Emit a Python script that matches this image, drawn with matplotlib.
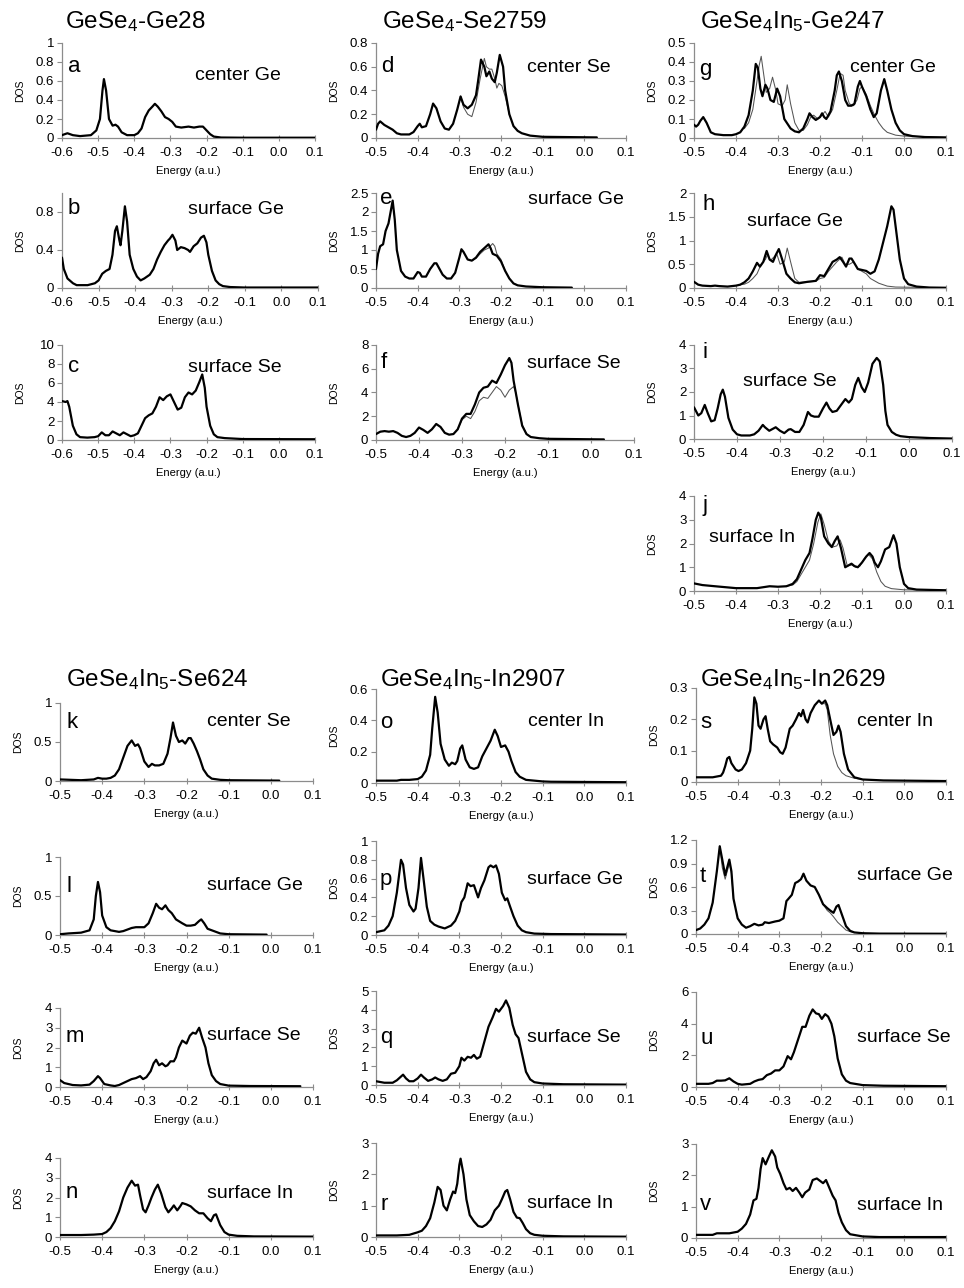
import matplotlib
matplotlib.use("Agg")
import matplotlib.pyplot as plt
import numpy as np

plt.rcParams['font.family'] = ['Liberation Sans', 'DejaVu Sans']
plt.rcParams['mathtext.fontset'] = 'custom'
plt.rcParams['mathtext.rm'] = 'Liberation Sans'
plt.rcParams['mathtext.it'] = 'Liberation Sans'

# ---------------- data (energy, DOS) ----------------
a_pts = [(-0.6,0.03),(-0.585,0.05),(-0.57,0.03),(-0.55,0.02),(-0.52,0.03),(-0.505,0.08),(-0.495,0.2),
         (-0.488,0.5),(-0.484,0.62),(-0.478,0.5),(-0.47,0.2),(-0.46,0.13),(-0.452,0.14),(-0.445,0.12),
         (-0.435,0.06),(-0.42,0.03),(-0.40,0.03),(-0.39,0.05),(-0.38,0.1),(-0.37,0.22),(-0.36,0.29),
         (-0.35,0.33),(-0.343,0.36),(-0.335,0.33),(-0.325,0.28),(-0.315,0.22),(-0.305,0.2),(-0.295,0.17),
         (-0.285,0.12),(-0.27,0.11),(-0.25,0.12),(-0.235,0.11),(-0.22,0.12),(-0.21,0.12),(-0.2,0.08),
         (-0.19,0.04),(-0.18,0.015),(-0.16,0.005),(-0.1,0.003),(0.1,0.003)]
b_pts = [(-0.6,0.32),(-0.595,0.2),(-0.585,0.1),(-0.57,0.05),(-0.56,0.03),(-0.53,0.03),(-0.51,0.05),
         (-0.5,0.08),(-0.49,0.15),(-0.48,0.18),(-0.47,0.2),(-0.462,0.35),(-0.455,0.6),(-0.45,0.65),
         (-0.443,0.5),(-0.44,0.45),(-0.435,0.6),(-0.428,0.86),(-0.422,0.7),(-0.415,0.35),(-0.405,0.2),
         (-0.395,0.12),(-0.385,0.08),(-0.375,0.1),(-0.36,0.14),(-0.35,0.2),(-0.34,0.3),(-0.33,0.38),
         (-0.32,0.45),(-0.31,0.5),(-0.305,0.52),(-0.298,0.56),(-0.29,0.5),(-0.285,0.4),(-0.275,0.43),
         (-0.265,0.42),(-0.255,0.4),(-0.25,0.38),(-0.24,0.44),(-0.23,0.47),(-0.22,0.53),(-0.212,0.55),
         (-0.205,0.48),(-0.2,0.35),(-0.19,0.18),(-0.18,0.08),(-0.17,0.04),(-0.16,0.02),(-0.14,0.01),
         (-0.1,0.005),(0.1,0.005)]
c_pts = [(-0.6,4.1),(-0.59,4.0),(-0.585,4.1),(-0.58,3.5),(-0.575,2.5),(-0.57,1.5),(-0.56,0.6),(-0.55,0.3),
         (-0.53,0.25),(-0.51,0.3),(-0.5,0.4),(-0.49,0.8),(-0.48,0.5),(-0.47,0.5),(-0.46,0.9),(-0.45,0.7),
         (-0.44,0.5),(-0.43,0.8),(-0.42,0.6),(-0.41,0.4),(-0.4,0.5),(-0.39,0.7),(-0.38,1.5),(-0.37,2.3),
         (-0.36,2.6),(-0.35,2.8),(-0.34,3.5),(-0.33,4.5),(-0.32,4.2),(-0.31,4.6),(-0.3,4.8),(-0.29,4.0),
         (-0.28,3.2),(-0.27,3.4),(-0.26,4.5),(-0.25,5.0),(-0.24,4.8),(-0.23,5.2),(-0.22,6.1),(-0.212,6.9),
         (-0.205,5.5),(-0.2,3.5),(-0.19,1.5),(-0.18,0.6),(-0.17,0.3),(-0.15,0.2),(-0.1,0.1),(0.1,0.08)]
d_pts = [(-0.5,0.07),(-0.495,0.12),(-0.49,0.14),(-0.48,0.11),(-0.47,0.09),(-0.46,0.07),(-0.45,0.04),
         (-0.44,0.03),(-0.42,0.03),(-0.41,0.05),(-0.4,0.1),(-0.395,0.12),(-0.39,0.09),(-0.38,0.1),
         (-0.37,0.2),(-0.363,0.29),(-0.355,0.25),(-0.345,0.14),(-0.335,0.08),(-0.325,0.07),(-0.315,0.12),
         (-0.305,0.24),(-0.297,0.35),(-0.29,0.28),(-0.28,0.25),(-0.27,0.28),(-0.26,0.36),(-0.255,0.48),
         (-0.248,0.66),(-0.24,0.6),(-0.235,0.52),(-0.228,0.56),(-0.222,0.5),(-0.215,0.47),(-0.21,0.55),
         (-0.203,0.7),(-0.195,0.6),(-0.19,0.4),(-0.18,0.2),(-0.17,0.1),(-0.16,0.06),(-0.15,0.04),
         (-0.13,0.02),(-0.1,0.01),(0.03,0.005)]
d_thin = [(-0.297,0.35),(-0.29,0.26),(-0.28,0.2),(-0.27,0.18),(-0.26,0.3),(-0.25,0.5),(-0.24,0.67),
          (-0.235,0.6),(-0.228,0.58),(-0.222,0.58),(-0.215,0.5),(-0.21,0.42),(-0.205,0.46),(-0.198,0.44),
          (-0.19,0.35),(-0.18,0.2)]
e_pts = [(-0.5,0.5),(-0.495,0.9),(-0.49,1.1),(-0.483,1.15),(-0.477,1.5),(-0.47,1.7),(-0.465,2.0),
         (-0.46,2.3),(-0.455,1.8),(-0.45,1.0),(-0.44,0.45),(-0.43,0.3),(-0.42,0.25),(-0.41,0.25),
         (-0.4,0.42),(-0.395,0.4),(-0.39,0.3),(-0.38,0.3),(-0.37,0.5),(-0.36,0.65),(-0.355,0.65),
         (-0.35,0.55),(-0.34,0.35),(-0.33,0.25),(-0.32,0.25),(-0.31,0.4),(-0.3,0.8),(-0.295,1.02),
         (-0.29,0.95),(-0.28,0.75),(-0.27,0.72),(-0.26,0.8),(-0.25,0.95),(-0.24,1.05),(-0.23,1.15),
         (-0.225,1.05),(-0.22,0.9),(-0.21,0.85),(-0.2,0.7),(-0.19,0.45),(-0.18,0.25),(-0.17,0.12),
         (-0.16,0.07),(-0.14,0.04),(-0.1,0.02),(-0.03,0.01)]
e_thin = [(-0.27,0.72),(-0.26,0.78),(-0.25,0.9),(-0.24,1.0),(-0.23,1.05),(-0.22,1.17),(-0.215,1.1),
          (-0.21,0.9),(-0.2,0.75),(-0.19,0.45)]
f_pts = [(-0.5,0.5),(-0.49,0.7),(-0.48,0.75),(-0.47,0.7),(-0.46,0.75),(-0.45,0.6),(-0.44,0.35),
         (-0.43,0.25),(-0.42,0.35),(-0.41,0.6),(-0.4,1.05),(-0.39,0.85),(-0.38,0.6),(-0.37,0.9),
         (-0.36,1.35),(-0.35,1.1),(-0.34,0.6),(-0.33,0.45),(-0.32,0.5),(-0.31,0.9),(-0.3,1.8),(-0.29,2.2),
         (-0.28,2.2),(-0.27,3.0),(-0.26,4.0),(-0.25,4.4),(-0.24,4.5),(-0.23,5.0),(-0.22,4.8),(-0.21,5.5),
         (-0.2,6.3),(-0.19,6.9),(-0.185,6.5),(-0.18,5.0),(-0.17,3.0),(-0.16,1.2),(-0.15,0.5),(-0.14,0.25),
         (-0.12,0.15),(-0.1,0.1),(0.03,0.05)]
f_thin = [(-0.31,0.9),(-0.3,1.7),(-0.29,2.0),(-0.28,1.8),(-0.27,2.4),(-0.26,3.3),(-0.25,3.6),(-0.24,3.5),
          (-0.23,4.0),(-0.22,4.5),(-0.21,4.2),(-0.2,3.6),(-0.19,4.2),(-0.18,4.5),(-0.175,4.0),(-0.17,3.0),
          (-0.16,1.3),(-0.15,0.5)]
g_pts = [(-0.5,0.07),(-0.495,0.06),(-0.49,0.07),(-0.485,0.09),(-0.478,0.11),(-0.47,0.08),(-0.46,0.03),
         (-0.45,0.02),(-0.43,0.015),(-0.41,0.015),(-0.4,0.02),(-0.39,0.03),(-0.38,0.06),(-0.37,0.12),
         (-0.36,0.25),(-0.353,0.39),(-0.348,0.37),(-0.342,0.26),(-0.337,0.22),(-0.33,0.28),(-0.325,0.26),
         (-0.318,0.2),(-0.31,0.19),(-0.302,0.26),(-0.295,0.22),(-0.285,0.1),(-0.27,0.05),(-0.26,0.035),
         (-0.25,0.03),(-0.24,0.05),(-0.23,0.1),(-0.225,0.13),(-0.218,0.11),(-0.21,0.095),(-0.2,0.11),
         (-0.195,0.13),(-0.19,0.11),(-0.185,0.1),(-0.175,0.14),(-0.165,0.25),(-0.16,0.33),(-0.155,0.35),
         (-0.148,0.3),(-0.14,0.2),(-0.133,0.17),(-0.125,0.17),(-0.118,0.18),(-0.11,0.27),(-0.105,0.3),
         (-0.1,0.27),(-0.09,0.22),(-0.08,0.15),(-0.072,0.11),(-0.065,0.13),(-0.055,0.25),(-0.047,0.31),
         (-0.04,0.25),(-0.03,0.15),(-0.02,0.08),(-0.01,0.04),(0.0,0.02),(0.02,0.01),(0.05,0.005),(0.1,0.003)]
g_thin = [(-0.38,0.05),(-0.37,0.08),(-0.36,0.15),(-0.35,0.3),(-0.345,0.38),(-0.34,0.43),(-0.335,0.35),
          (-0.328,0.24),(-0.32,0.26),(-0.313,0.32),(-0.305,0.25),(-0.3,0.18),(-0.29,0.17),(-0.283,0.2),
          (-0.278,0.28),(-0.27,0.18),(-0.26,0.08),(-0.25,0.04),(-0.24,0.04),(-0.23,0.07),(-0.222,0.11),
          (-0.215,0.12),(-0.205,0.1),(-0.195,0.12),(-0.188,0.14),(-0.18,0.11),(-0.17,0.15),(-0.16,0.25),
          (-0.152,0.34),(-0.145,0.33),(-0.14,0.25),(-0.13,0.18),(-0.12,0.17),(-0.112,0.2),(-0.105,0.26),
          (-0.1,0.27),(-0.09,0.23),(-0.08,0.17),(-0.07,0.12),(-0.06,0.08),(-0.05,0.05),(-0.04,0.03),
          (-0.02,0.015),(0.0,0.01),(0.1,0.003)]
h_pts = [(-0.5,0.13),(-0.49,0.07),(-0.48,0.05),(-0.46,0.04),(-0.45,0.05),(-0.44,0.04),(-0.42,0.03),
         (-0.40,0.05),(-0.39,0.07),(-0.38,0.12),(-0.37,0.2),(-0.36,0.35),(-0.35,0.53),(-0.343,0.45),
         (-0.335,0.55),(-0.327,0.78),(-0.32,0.6),(-0.312,0.55),(-0.305,0.7),(-0.298,0.82),(-0.29,0.6),
         (-0.28,0.3),(-0.27,0.2),(-0.26,0.12),(-0.25,0.1),(-0.23,0.13),(-0.21,0.15),(-0.2,0.27),
         (-0.19,0.25),(-0.18,0.4),(-0.17,0.55),(-0.16,0.6),(-0.153,0.65),(-0.145,0.55),(-0.138,0.45),
         (-0.13,0.62),(-0.125,0.62),(-0.12,0.55),(-0.11,0.4),(-0.1,0.38),(-0.09,0.36),(-0.08,0.3),
         (-0.07,0.35),(-0.06,0.6),(-0.05,0.95),(-0.04,1.3),(-0.03,1.72),(-0.025,1.65),(-0.02,1.3),
         (-0.01,0.6),(0.0,0.2),(0.01,0.08),(0.03,0.03),(0.06,0.01),(0.1,0.005)]
h_thin = [(-0.39,0.07),(-0.38,0.08),(-0.37,0.12),(-0.36,0.2),(-0.35,0.3),(-0.34,0.5),(-0.33,0.6),
          (-0.325,0.7),(-0.318,0.58),(-0.31,0.65),(-0.303,0.72),(-0.295,0.5),(-0.285,0.55),(-0.278,0.84),
          (-0.27,0.55),(-0.26,0.2),(-0.25,0.12),(-0.23,0.13),(-0.21,0.14),(-0.2,0.2),(-0.19,0.22),
          (-0.18,0.35),(-0.17,0.45),(-0.16,0.55),(-0.148,0.65),(-0.14,0.5),(-0.13,0.5),(-0.12,0.55),
          (-0.11,0.4),(-0.1,0.35),(-0.09,0.3),(-0.08,0.2),(-0.06,0.1),(-0.04,0.04),(-0.02,0.02),(0.1,0.005)]
i_pts = [(-0.5,1.35),(-0.49,1.0),(-0.483,1.1),(-0.475,1.45),(-0.468,1.1),(-0.46,0.75),(-0.452,0.8),
         (-0.445,1.3),(-0.438,1.9),(-0.433,2.1),(-0.428,1.8),(-0.42,0.9),(-0.41,0.4),(-0.4,0.2),
         (-0.39,0.15),(-0.37,0.15),(-0.36,0.2),(-0.35,0.35),(-0.34,0.6),(-0.335,0.5),(-0.325,0.35),
         (-0.31,0.5),(-0.3,0.35),(-0.29,0.25),(-0.28,0.4),(-0.275,0.42),(-0.265,0.3),(-0.255,0.3),
         (-0.245,0.6),(-0.235,1.15),(-0.228,1.0),(-0.22,0.95),(-0.21,0.95),(-0.2,1.3),(-0.192,1.55),
         (-0.185,1.3),(-0.178,1.15),(-0.168,1.2),(-0.158,1.45),(-0.148,1.7),(-0.14,1.55),(-0.133,1.7),
         (-0.125,2.3),(-0.118,2.6),(-0.11,2.2),(-0.103,2.0),(-0.095,2.4),(-0.085,3.2),(-0.075,3.45),
         (-0.068,3.3),(-0.06,2.3),(-0.055,1.2),(-0.05,0.6),(-0.04,0.3),(-0.03,0.18),(-0.02,0.12),
         (0.0,0.08),(0.05,0.04),(0.1,0.02)]
j_pts = [(-0.5,0.32),(-0.48,0.25),(-0.45,0.2),(-0.4,0.12),(-0.35,0.12),(-0.32,0.2),(-0.3,0.18),
         (-0.28,0.2),(-0.265,0.3),(-0.255,0.5),(-0.245,0.9),(-0.235,1.3),(-0.225,1.6),(-0.218,2.2),
         (-0.21,3.0),(-0.204,3.3),(-0.198,3.1),(-0.19,2.3),(-0.18,2.0),(-0.172,1.85),(-0.165,2.1),
         (-0.158,2.3),(-0.15,1.8),(-0.14,1.0),(-0.13,1.1),(-0.125,1.15),(-0.118,1.05),(-0.11,1.0),
         (-0.1,1.2),(-0.09,1.45),(-0.082,1.6),(-0.075,1.45),(-0.07,1.2),(-0.062,1.0),(-0.055,1.25),
         (-0.045,1.75),(-0.035,1.85),(-0.025,2.35),(-0.018,2.0),(-0.01,1.0),(0.0,0.3),(0.01,0.12),
         (0.03,0.06),(0.1,0.03)]
j_thin = [(-0.28,0.2),(-0.265,0.25),(-0.255,0.4),(-0.245,0.7),(-0.235,1.0),(-0.225,1.3),(-0.215,2.0),
          (-0.205,2.9),(-0.198,3.25),(-0.19,2.8),(-0.18,2.1),(-0.17,1.85),(-0.16,1.9),(-0.152,2.15),
          (-0.145,1.8),(-0.135,1.05),(-0.125,1.1),(-0.115,1.0),(-0.105,1.05),(-0.095,1.35),(-0.085,1.55),
          (-0.075,1.35),(-0.065,0.8),(-0.055,0.4),(-0.045,0.2),(-0.03,0.1),(0.0,0.05),(0.1,0.03)]
k_pts = [(-0.5,0.02),(-0.45,0.01),(-0.42,0.02),(-0.41,0.04),(-0.4,0.03),(-0.39,0.03),(-0.38,0.04),
         (-0.37,0.07),(-0.36,0.15),(-0.35,0.3),(-0.34,0.45),(-0.33,0.52),(-0.322,0.45),(-0.315,0.47),
         (-0.31,0.42),(-0.3,0.25),(-0.29,0.18),(-0.282,0.22),(-0.275,0.2),(-0.265,0.2),(-0.255,0.22),
         (-0.245,0.35),(-0.238,0.55),(-0.232,0.75),(-0.225,0.58),(-0.218,0.5),(-0.21,0.52),(-0.203,0.48),
         (-0.195,0.55),(-0.19,0.55),(-0.183,0.48),(-0.175,0.38),(-0.168,0.28),(-0.16,0.15),(-0.15,0.07),
         (-0.14,0.03),(-0.12,0.015),(-0.1,0.01),(0.02,0.005)]
l_pts = [(-0.5,0.01),(-0.48,0.02),(-0.45,0.03),(-0.43,0.06),(-0.42,0.2),(-0.415,0.5),(-0.41,0.68),
         (-0.405,0.55),(-0.4,0.25),(-0.39,0.1),(-0.38,0.06),(-0.36,0.04),(-0.35,0.05),(-0.34,0.07),
         (-0.33,0.09),(-0.32,0.1),(-0.31,0.1),(-0.3,0.1),(-0.29,0.15),(-0.28,0.28),(-0.272,0.4),
         (-0.265,0.35),(-0.258,0.33),(-0.25,0.38),(-0.243,0.32),(-0.235,0.28),(-0.225,0.2),(-0.21,0.15),
         (-0.2,0.12),(-0.19,0.12),(-0.18,0.13),(-0.17,0.18),(-0.165,0.2),(-0.158,0.15),(-0.15,0.08),
         (-0.14,0.06),(-0.13,0.04),(-0.12,0.02),(-0.1,0.01),(-0.01,0.005)]
m_pts = [(-0.5,0.35),(-0.49,0.2),(-0.47,0.1),(-0.45,0.08),(-0.43,0.12),(-0.42,0.3),(-0.41,0.55),
         (-0.405,0.45),(-0.395,0.15),(-0.38,0.08),(-0.37,0.05),(-0.36,0.1),(-0.35,0.2),(-0.34,0.3),
         (-0.33,0.4),(-0.32,0.45),(-0.31,0.55),(-0.303,0.4),(-0.295,0.5),(-0.285,0.8),(-0.278,1.2),
         (-0.272,1.38),(-0.265,1.1),(-0.258,1.2),(-0.25,1.05),(-0.245,1.1),(-0.238,1.3),(-0.23,1.3),
         (-0.225,1.5),(-0.218,2.0),(-0.21,2.35),(-0.2,2.2),(-0.192,2.6),(-0.185,2.75),(-0.178,2.7),
         (-0.17,3.0),(-0.163,2.5),(-0.155,2.0),(-0.148,1.2),(-0.14,0.6),(-0.13,0.3),(-0.12,0.15),
         (-0.1,0.07),(-0.05,0.05),(0.07,0.04)]
n_pts = [(-0.5,0.1),(-0.45,0.1),(-0.42,0.12),(-0.4,0.15),(-0.39,0.25),(-0.38,0.45),(-0.37,0.8),
         (-0.36,1.3),(-0.35,2.0),(-0.34,2.5),(-0.33,2.85),(-0.322,2.6),(-0.315,2.65),(-0.31,2.1),
         (-0.303,1.4),(-0.297,1.25),(-0.29,1.6),(-0.283,2.0),(-0.275,2.4),(-0.268,2.65),(-0.26,2.2),
         (-0.25,1.5),(-0.243,1.25),(-0.235,1.45),(-0.23,1.6),(-0.222,1.35),(-0.215,1.55),(-0.21,1.72),
         (-0.2,1.65),(-0.19,1.55),(-0.18,1.35),(-0.17,1.2),(-0.16,1.2),(-0.15,0.95),(-0.142,0.8),
         (-0.135,1.1),(-0.13,1.15),(-0.12,0.6),(-0.11,0.25),(-0.1,0.12),(-0.08,0.06),(-0.04,0.03),(0.1,0.02)]
o_pts = [(-0.5,0.015),(-0.45,0.015),(-0.44,0.02),(-0.42,0.02),(-0.4,0.025),(-0.39,0.04),(-0.38,0.08),
         (-0.37,0.18),(-0.365,0.35),(-0.358,0.55),(-0.352,0.45),(-0.345,0.25),(-0.335,0.15),(-0.325,0.11),
         (-0.318,0.13),(-0.31,0.12),(-0.305,0.14),(-0.298,0.22),(-0.293,0.24),(-0.285,0.15),(-0.275,0.1),
         (-0.265,0.09),(-0.255,0.1),(-0.245,0.17),(-0.235,0.22),(-0.225,0.27),(-0.215,0.34),(-0.208,0.3),
         (-0.2,0.23),(-0.19,0.24),(-0.182,0.2),(-0.175,0.14),(-0.165,0.07),(-0.155,0.04),(-0.14,0.02),
         (-0.1,0.01),(-0.08,0.008),(0.1,0.005)]
p_pts = [(-0.5,0.03),(-0.48,0.05),(-0.47,0.1),(-0.46,0.2),(-0.45,0.45),(-0.44,0.8),(-0.435,0.75),
         (-0.428,0.5),(-0.42,0.32),(-0.41,0.25),(-0.405,0.28),(-0.398,0.5),(-0.392,0.82),(-0.386,0.6),
         (-0.378,0.3),(-0.37,0.15),(-0.36,0.11),(-0.35,0.09),(-0.335,0.07),(-0.32,0.1),(-0.31,0.15),
         (-0.3,0.25),(-0.295,0.35),(-0.288,0.4),(-0.28,0.55),(-0.273,0.52),(-0.265,0.53),(-0.255,0.4),
         (-0.248,0.5),(-0.24,0.58),(-0.23,0.72),(-0.225,0.74),(-0.218,0.72),(-0.212,0.74),(-0.205,0.65),
         (-0.198,0.45),(-0.19,0.37),(-0.185,0.39),(-0.178,0.3),(-0.17,0.2),(-0.16,0.1),(-0.15,0.05),
         (-0.14,0.03),(-0.12,0.015),(-0.08,0.01),(0.1,0.005)]
q_pts = [(-0.5,0.2),(-0.48,0.12),(-0.46,0.12),(-0.45,0.25),(-0.44,0.45),(-0.435,0.55),(-0.428,0.35),
         (-0.42,0.2),(-0.41,0.2),(-0.4,0.35),(-0.392,0.55),(-0.385,0.4),(-0.375,0.22),(-0.365,0.3),
         (-0.358,0.4),(-0.35,0.3),(-0.34,0.22),(-0.33,0.3),(-0.32,0.6),(-0.31,0.65),(-0.3,1.0),
         (-0.295,1.45),(-0.288,1.3),(-0.28,1.5),(-0.272,1.45),(-0.265,1.6),(-0.258,1.4),(-0.25,1.5),
         (-0.24,2.3),(-0.23,3.1),(-0.22,3.6),(-0.212,4.05),(-0.205,3.9),(-0.195,4.2),(-0.188,4.5),
         (-0.18,4.1),(-0.172,3.2),(-0.165,2.7),(-0.158,2.5),(-0.15,1.7),(-0.14,0.7),(-0.13,0.3),
         (-0.12,0.15),(-0.1,0.08),(-0.05,0.04),(0.1,0.02)]
r_pts = [(-0.5,0.05),(-0.45,0.05),(-0.42,0.07),(-0.4,0.15),(-0.39,0.2),(-0.38,0.35),(-0.37,0.6),
         (-0.36,1.1),(-0.352,1.6),(-0.345,1.5),(-0.338,1.0),(-0.33,0.85),(-0.322,1.2),(-0.315,1.45),
         (-0.31,1.4),(-0.305,1.7),(-0.3,2.3),(-0.297,2.5),(-0.29,2.0),(-0.283,1.2),(-0.275,0.7),
         (-0.265,0.5),(-0.255,0.35),(-0.245,0.32),(-0.235,0.4),(-0.225,0.55),(-0.215,0.85),(-0.205,1.0),
         (-0.198,1.2),(-0.19,1.45),(-0.185,1.5),(-0.178,1.2),(-0.17,0.8),(-0.162,0.62),(-0.155,0.6),
         (-0.148,0.45),(-0.14,0.25),(-0.13,0.12),(-0.12,0.07),(-0.1,0.04),(-0.05,0.02),(0.1,0.01)]
s_pts = [(-0.5,0.015),(-0.46,0.015),(-0.44,0.02),(-0.435,0.03),(-0.43,0.05),(-0.425,0.075),(-0.42,0.08),
         (-0.415,0.06),(-0.405,0.04),(-0.398,0.035),(-0.39,0.04),(-0.38,0.06),(-0.37,0.1),(-0.365,0.17),
         (-0.36,0.27),(-0.355,0.25),(-0.35,0.18),(-0.345,0.17),(-0.338,0.2),(-0.333,0.21),(-0.328,0.17),
         (-0.322,0.13),(-0.315,0.12),(-0.305,0.11),(-0.298,0.095),(-0.292,0.09),(-0.285,0.11),(-0.28,0.14),
         (-0.275,0.17),(-0.268,0.18),(-0.26,0.2),(-0.253,0.22),(-0.248,0.21),(-0.243,0.23),(-0.237,0.2),
         (-0.232,0.19),(-0.225,0.22),(-0.215,0.245),(-0.205,0.26),(-0.198,0.25),(-0.19,0.26),(-0.185,0.245),
         (-0.178,0.2),(-0.17,0.15),(-0.163,0.16),(-0.158,0.18),(-0.153,0.16),(-0.145,0.09),(-0.135,0.04),
         (-0.12,0.015),(-0.1,0.008),(-0.05,0.005),(0.1,0.003)]
s_thin = [(-0.198,0.25),(-0.19,0.25),(-0.185,0.23),(-0.178,0.15),(-0.17,0.09),(-0.16,0.05),(-0.15,0.03),
          (-0.14,0.02),(-0.12,0.012),(-0.1,0.008)]
t_pts = [(-0.5,0.05),(-0.49,0.07),(-0.48,0.12),(-0.47,0.2),(-0.46,0.4),(-0.45,0.8),(-0.443,1.12),
         (-0.437,0.95),(-0.43,0.75),(-0.425,0.85),(-0.42,0.95),(-0.415,0.8),(-0.41,0.45),(-0.4,0.2),
         (-0.39,0.12),(-0.38,0.08),(-0.37,0.1),(-0.36,0.13),(-0.35,0.11),(-0.34,0.12),(-0.335,0.15),
         (-0.325,0.14),(-0.31,0.16),(-0.3,0.17),(-0.29,0.2),(-0.283,0.42),(-0.278,0.45),(-0.27,0.5),
         (-0.262,0.65),(-0.255,0.67),(-0.248,0.7),(-0.242,0.77),(-0.235,0.68),(-0.225,0.62),(-0.215,0.6),
         (-0.205,0.5),(-0.195,0.38),(-0.185,0.33),(-0.178,0.3),(-0.17,0.27),(-0.163,0.35),(-0.158,0.37),
         (-0.15,0.25),(-0.14,0.1),(-0.13,0.04),(-0.12,0.02),(-0.1,0.01),(-0.06,0.005),(0.1,0.003)]
t_thin_low = [(-0.443,1.12),(-0.437,0.85),(-0.43,0.7),(-0.425,0.8),(-0.42,0.9),(-0.415,0.78),(-0.41,0.45)]
t_thin_high = [(-0.195,0.38),(-0.185,0.3),(-0.178,0.27),(-0.17,0.22),(-0.16,0.15),(-0.15,0.1),(-0.14,0.05),
               (-0.13,0.03),(-0.12,0.02)]
u_pts = [(-0.5,0.2),(-0.47,0.2),(-0.46,0.25),(-0.45,0.4),(-0.44,0.4),(-0.43,0.42),(-0.42,0.55),
         (-0.41,0.35),(-0.4,0.2),(-0.39,0.15),(-0.37,0.2),(-0.36,0.35),(-0.35,0.45),(-0.34,0.5),
         (-0.33,0.75),(-0.32,0.85),(-0.31,1.05),(-0.3,1.05),(-0.29,1.3),(-0.28,1.95),(-0.272,1.75),
         (-0.265,2.2),(-0.255,3.0),(-0.245,3.8),(-0.237,3.8),(-0.228,4.5),(-0.22,4.9),(-0.212,4.65),
         (-0.205,4.6),(-0.198,4.3),(-0.19,4.6),(-0.183,4.45),(-0.175,4.0),(-0.168,3.2),(-0.16,1.8),
         (-0.15,0.8),(-0.14,0.4),(-0.13,0.25),(-0.1,0.12),(-0.05,0.08),(0.1,0.05)]
v_pts = [(-0.5,0.1),(-0.46,0.1),(-0.45,0.15),(-0.42,0.15),(-0.4,0.2),(-0.39,0.3),(-0.38,0.45),
         (-0.37,0.75),(-0.362,1.2),(-0.355,1.25),(-0.35,1.6),(-0.345,2.2),(-0.34,2.55),(-0.333,2.35),
         (-0.325,2.6),(-0.318,2.8),(-0.31,2.6),(-0.305,2.25),(-0.298,2.05),(-0.29,1.75),(-0.283,1.55),
         (-0.275,1.6),(-0.268,1.5),(-0.26,1.6),(-0.252,1.45),(-0.245,1.3),(-0.238,1.45),(-0.228,1.55),
         (-0.22,1.85),(-0.21,1.9),(-0.2,1.8),(-0.195,1.75),(-0.188,1.85),(-0.18,1.6),(-0.172,1.35),
         (-0.165,1.2),(-0.158,0.8),(-0.15,0.5),(-0.14,0.25),(-0.13,0.12),(-0.1,0.05),(-0.06,0.03),(0.1,0.03)]

curves = {'a': a_pts, 'b': b_pts, 'c': c_pts, 'd': d_pts, 'e': e_pts, 'f': f_pts, 'g': g_pts,
          'h': h_pts, 'i': i_pts, 'j': j_pts, 'k': k_pts, 'l': l_pts, 'm': m_pts, 'n': n_pts,
          'o': o_pts, 'p': p_pts, 'q': q_pts, 'r': r_pts, 's': s_pts, 't': t_pts, 'u': u_pts, 'v': v_pts}
thin_curves = {'d': [d_thin], 'e': [e_thin], 'f': [f_thin], 'g': [g_thin], 'h': [h_thin], 'j': [j_thin],
               's': [s_thin], 't': [t_thin_low, t_thin_high]}

site_labels = {'a': 'center Ge', 'b': 'surface Ge', 'c': 'surface Se', 'd': 'center Se', 'e': 'surface Ge',
               'f': 'surface Se', 'g': 'center Ge', 'h': 'surface Ge', 'i': 'surface Se', 'j': 'surface In',
               'k': 'center Se', 'l': 'surface Ge', 'm': 'surface Se', 'n': 'surface In',
               'o': 'center In', 'p': 'surface Ge', 'q': 'surface Se', 'r': 'surface In',
               's': 'center In', 't': 'surface Ge', 'u': 'surface Se', 'v': 'surface In'}
y_max = {'a': 1, 'b': 1, 'c': 10, 'd': 0.8, 'e': 2.5, 'f': 8, 'g': 0.5, 'h': 2, 'i': 4, 'j': 4,
         'k': 1, 'l': 1, 'm': 4, 'n': 4, 'o': 0.6, 'p': 1, 'q': 5, 'r': 3,
         's': 0.3, 't': 1.2, 'u': 6, 'v': 3}
y_step = {'a': 0.2, 'b': 0.4, 'c': 2, 'd': 0.2, 'e': 0.5, 'f': 2, 'g': 0.1, 'h': 0.5, 'i': 1, 'j': 1,
          'k': 0.5, 'l': 0.5, 'm': 1, 'n': 1, 'o': 0.2, 'p': 0.2, 'q': 1, 'r': 1,
          's': 0.1, 't': 0.3, 'u': 2, 'v': 1}
x_min = {'a': -0.6, 'b': -0.6, 'c': -0.6}
titles = [('GeSe$_4$-Ge28', 65, 22), ('GeSe$_4$-Se2759', 382, 22), ('GeSe$_4$In$_5$-Ge247', 700, 22),
          ('GeSe$_4$In$_5$-Se624', 66, 680), ('GeSe$_4$In$_5$-In2907', 380, 680),
          ('GeSe$_4$In$_5$-In2629', 700, 680)]

# ---------------- layout (pixels) ----------------
W, H = 964, 1288
# axes box: left, right, top, bottom
boxes = {'a': (62, 315, 43, 138), 'b': (62, 318, 193, 288), 'c': (62, 315, 345, 440),
         'd': (376, 626, 43, 138), 'e': (376, 626, 193, 288), 'f': (376, 634, 345, 440),
         'g': (694, 946, 43, 138), 'h': (694, 946, 193, 288), 'i': (694, 952, 345, 439),
         'j': (694, 946, 496, 591),
         'k': (60, 313, 703, 781), 'l': (60, 313, 857, 935), 'm': (60, 313, 1008, 1087),
         'n': (60, 313, 1158, 1237),
         'o': (376, 626, 689, 783), 'p': (376, 626, 841, 935), 'q': (376, 626, 991, 1085),
         'r': (376, 626, 1143, 1237),
         's': (696, 946, 688, 782), 't': (696, 946, 840, 934), 'u': (696, 946, 992, 1087),
         'v': (696, 946, 1144, 1238)}
letter_pos = {'a': (68, 67), 'b': (68, 209), 'c': (68, 366), 'd': (381, 67), 'e': (380, 199),
              'f': (381, 363), 'g': (699, 70), 'h': (703, 205), 'i': (703, 352), 'j': (703, 506),
              'k': (67, 722), 'l': (67, 886), 'm': (66, 1037), 'n': (66, 1192),
              'o': (380, 722), 'p': (380, 880), 'q': (380, 1038), 'r': (380, 1205),
              's': (700, 722), 't': (700, 877), 'u': (700, 1038), 'v': (700, 1205)}
label_pos = {'a': (195, 75), 'b': (188, 210), 'c': (188, 367), 'd': (527, 67), 'e': (528, 200),
             'f': (527, 364), 'g': (850, 68), 'h': (747, 222), 'i': (743, 382), 'j': (709, 537),
             'k': (207, 722), 'l': (207, 886), 'm': (207, 1036), 'n': (207, 1193),
             'o': (528, 722), 'p': (527, 880), 'q': (527, 1037), 'r': (527, 1203),
             's': (857, 722), 't': (857, 875), 'u': (857, 1038), 'v': (857, 1205)}

fig = plt.figure(figsize=(W / 100, H / 100), dpi=100)
fig.patch.set_facecolor('white')
AX_COL = '#8c8c8c'


def fmt_x(v):
    s = '%.1f' % v
    return '0.0' if s == '-0.0' else s


def fmt_y(v):
    return ('%g' % round(v, 3))


for key, (L, R, T, B) in boxes.items():
    ax = fig.add_axes([L / W, 1 - B / H, (R - L) / W, (B - T) / H])
    ax.patch.set_alpha(0)
    xmin = x_min.get(key, -0.5)
    ymax = y_max[key]
    for seg in thin_curves.get(key, []):
        tx, ty = zip(*seg)
        ax.plot(tx, ty, color='#555555', lw=0.75, solid_joinstyle='round', zorder=2)
    cx, cy = zip(*curves[key])
    ax.plot(cx, cy, color='black', lw=1.6, solid_joinstyle='round', solid_capstyle='round', zorder=3)
    ax.set_xlim(xmin, 0.1)
    ax.set_ylim(0, ymax)
    xt = np.round(np.arange(xmin, 0.1001, 0.1), 2)
    ax.set_xticks(xt)
    ax.set_xticklabels([fmt_x(v) for v in xt])
    yt = np.round(np.arange(0, ymax + 1e-9, y_step[key]), 3)
    ax.set_yticks(yt)
    ax.set_yticklabels([fmt_y(v) for v in yt])
    for sp in ['top', 'right']:
        ax.spines[sp].set_visible(False)
    for sp in ['left', 'bottom']:
        ax.spines[sp].set_color(AX_COL)
        ax.spines[sp].set_linewidth(0.9)
    ax.tick_params(axis='x', direction='inout', length=5, width=0.8, color=AX_COL,
                   labelsize=9.5, pad=4)
    ax.tick_params(axis='y', direction='out', length=3.5, width=0.8, color=AX_COL,
                   labelsize=9.5, pad=2)
    hpx = B - T
    wpx = R - L
    ax.text(0.5, -33.0 / hpx, 'Energy (a.u.)', transform=ax.transAxes, ha='center',
            va='center', fontsize=8)
    ax.text(-42.0 / wpx, 0.5, 'DOS', transform=ax.transAxes, ha='center', va='center',
            rotation=90, fontsize=7.5)
    lx, ly = letter_pos[key]
    fig.text(lx / W, 1 - ly / H, key, ha='left', va='center', fontsize=16)
    sx, sy = label_pos[key]
    fig.text(sx / W, 1 - sy / H, site_labels[key], ha='left', va='center', fontsize=14)

for txt, tx, ty in titles:
    fig.text(tx / W, 1 - ty / H, txt, ha='left', va='center', fontsize=17.5)

fig.savefig('out.png', dpi=100, facecolor='white')
